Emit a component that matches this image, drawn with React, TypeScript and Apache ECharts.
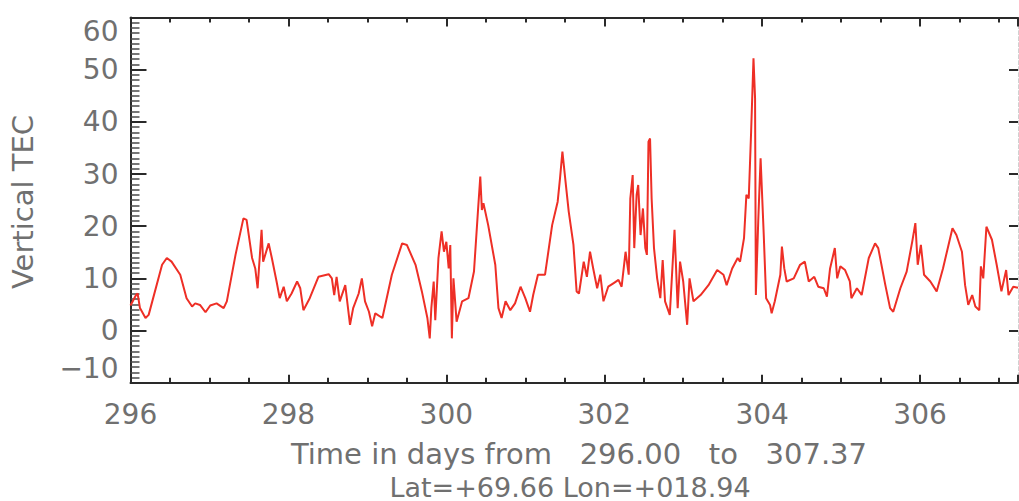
import React, { useEffect, useRef } from "react";
import * as echarts from "echarts";

const days: number[] = [
  296.0, 296.07, 296.09, 296.12, 296.19, 296.23, 296.4, 296.46, 296.52, 296.63,
  296.71, 296.78, 296.82, 296.88, 296.95, 297.01, 297.09, 297.18, 297.22, 297.33,
  297.43, 297.47, 297.54, 297.58, 297.61, 297.66, 297.68, 297.75, 297.79, 297.85,
  297.89, 297.94, 297.98, 298.04, 298.11, 298.15, 298.19, 298.27, 298.38, 298.51,
  298.55, 298.58, 298.61, 298.65, 298.72, 298.78, 298.82, 298.89, 298.93, 298.97,
  299.02, 299.06, 299.1, 299.19, 299.31, 299.44, 299.5, 299.61, 299.69, 299.76,
  299.79, 299.81, 299.84, 299.86, 299.9, 299.94, 299.97, 300.0, 300.03, 300.05,
  300.07, 300.09, 300.13, 300.2, 300.28, 300.35, 300.4, 300.43, 300.45, 300.47,
  300.53, 300.62, 300.66, 300.7, 300.75, 300.81, 300.87, 300.94, 301.0, 301.06,
  301.1, 301.16, 301.25, 301.34, 301.41, 301.44, 301.47, 301.51, 301.55, 301.61,
  301.65, 301.68, 301.74, 301.78, 301.82, 301.86, 301.91, 301.95, 301.99, 302.05,
  302.12, 302.18, 302.22, 302.27, 302.31, 302.33, 302.36, 302.38, 302.41, 302.43,
  302.46, 302.49, 302.52, 302.54, 302.56, 302.58, 302.6, 302.63, 302.67, 302.71,
  302.74, 302.77, 302.83, 302.89, 302.93, 302.96, 303.0, 303.05, 303.08, 303.13,
  303.22, 303.32, 303.43, 303.51, 303.55, 303.62, 303.69, 303.72, 303.77, 303.8,
  303.83, 303.86, 303.89, 303.91, 303.92, 303.95, 303.98, 304.02, 304.05, 304.1,
  304.12, 304.16, 304.23, 304.25, 304.28, 304.31, 304.4, 304.48, 304.54, 304.59,
  304.66, 304.71, 304.78, 304.82, 304.86, 304.92, 304.95, 304.99, 305.05, 305.11,
  305.13, 305.2, 305.26, 305.35, 305.43, 305.47, 305.56, 305.62, 305.66, 305.75,
  305.83, 305.9, 305.94, 305.97, 306.01, 306.05, 306.13, 306.21, 306.29, 306.36,
  306.41, 306.46, 306.53, 306.57, 306.61, 306.66, 306.7, 306.75, 306.77, 306.8,
  306.84, 306.91, 306.97, 307.03, 307.09, 307.12, 307.18, 307.24,
];

const tec: number[] = [
  4.8, 6.8, 7.1, 4.3, 2.4, 3.0, 12.6, 13.9, 13.2, 10.7,
  6.2, 4.6, 5.2, 4.9, 3.5, 4.8, 5.2, 4.3, 5.6, 14.5,
  21.5, 21.2, 13.9, 11.9, 8.1, 19.3, 13.2, 16.7, 13.9, 9.4,
  6.2, 8.4, 5.6, 7.1, 9.4, 8.1, 3.9, 6.2, 10.3, 10.8,
  10.0, 6.8, 10.3, 5.6, 8.7, 1.1, 4.3, 7.1, 10.0, 5.6,
  3.6, 0.8, 3.3, 2.4, 10.7, 16.7, 16.4, 12.6, 7.5, 2.4,
  -1.5, 4.3, 9.4, 2.0, 13.9, 19.0, 15.1, 17.0, 11.9, 16.4,
  -1.5, 10.0, 1.7, 5.6, 6.2, 11.3, 22.8, 29.5, 23.1, 24.4,
  20.2, 12.6, 4.3, 2.4, 5.6, 3.9, 5.2, 8.4, 6.2, 3.6,
  6.8, 10.7, 10.7, 20.2, 24.7, 29.2, 34.3, 28.5, 22.8, 16.4,
  7.5, 7.1, 13.2, 10.3, 15.1, 11.9, 8.1, 10.7, 5.6, 8.4,
  9.1, 9.7, 8.4, 15.1, 10.7, 25.3, 29.8, 15.8, 26.0, 27.9,
  18.3, 23.4, 15.8, 14.5, 36.2, 36.8, 25.3, 15.8, 10.0, 6.2,
  13.5, 5.6, 3.0, 19.3, 4.3, 13.2, 9.4, 1.1, 10.0, 5.6,
  6.8, 8.7, 11.6, 10.7, 8.7, 11.9, 13.9, 13.2, 17.7, 26.0,
  25.3, 38.1, 52.2, 44.5, 6.8, 20.9, 33.0, 18.3, 6.2, 4.9,
  3.3, 5.6, 10.7, 16.1, 11.9, 9.4, 10.0, 12.6, 13.2, 9.4,
  10.3, 8.4, 8.1, 6.5, 11.9, 15.8, 10.0, 12.3, 11.6, 9.4,
  6.2, 8.1, 6.8, 13.9, 16.7, 15.8, 8.7, 4.3, 3.6, 8.1,
  11.3, 17.0, 20.6, 12.6, 16.4, 10.7, 9.4, 7.5, 11.9, 16.4,
  19.6, 18.3, 15.1, 8.7, 4.9, 6.8, 4.6, 3.9, 12.3, 10.0,
  19.9, 17.4, 12.6, 7.5, 11.6, 6.8, 8.4, 8.2,
];

const yTitle = "Vertical TEC";
const xTitle = "Time in days from   296.00   to   307.37";
const subTitle = "Lat=+69.66 Lon=+018.94";

const FONT = "DejaVu Sans";
const TXT = "#707070";
const AX = "#2a2a2a";

export default function App() {
  const ref = useRef<HTMLDivElement>(null);
  useEffect(() => {
    if (!ref.current) return;
    const chart = echarts.init(ref.current, null, { renderer: "svg" });
    const data = days.map((d, i) => [d, tec[i]]);
    chart.setOption({
      animation: false,
      backgroundColor: "#ffffff",
      grid: { left: 130.5, right: 1, top: 17.5, bottom: 118.3, containLabel: false },
      xAxis: [
        {
          type: "value",
          position: "bottom",
          min: 296,
          max: 307.24,
          interval: 2,
          axisLine: { show: true, onZero: false, lineStyle: { color: AX, width: 2 } },
          axisTick: { show: true, inside: true, length: 8, lineStyle: { color: AX, width: 2 } },
          minorTick: { show: true, splitNumber: 4, length: 5, lineStyle: { color: AX, width: 2 } },
          splitLine: { show: false },
          axisLabel: {
            show: true,
            margin: 18,
            color: TXT,
            fontFamily: FONT,
            fontSize: 28,
            showMaxLabel: false,
            formatter: (v: number) => String(v),
          },
        },
        {
          type: "value",
          position: "top",
          min: 296,
          max: 307.24,
          interval: 2,
          axisLine: { show: true, onZero: false, lineStyle: { color: AX, width: 2 } },
          axisTick: { show: true, inside: true, length: 9, lineStyle: { color: AX, width: 2 } },
          minorTick: { show: true, splitNumber: 4, length: 5, lineStyle: { color: AX, width: 2 } },
          splitLine: { show: false },
          axisLabel: { show: false },
        },
      ],
      yAxis: [
        {
          type: "value",
          position: "left",
          min: -10,
          max: 60,
          interval: 10,
          axisLine: { show: true, onZero: false, lineStyle: { color: AX, width: 2 } },
          axisTick: { show: true, inside: true, length: 16, lineStyle: { color: AX, width: 2 } },
          minorTick: { show: true, splitNumber: 10, length: 9, lineStyle: { color: "#4a4a4a", width: 1.5 } },
          splitLine: { show: false },
          axisLabel: {
            show: true,
            margin: 12,
            color: TXT,
            fontFamily: FONT,
            fontSize: 28,
            verticalAlignMaxLabel: "top",
            verticalAlignMinLabel: "bottom",
            formatter: (v: number) => (v < 0 ? "\u2212" + Math.abs(v) : String(v)),
          },
        },
        {
          type: "value",
          position: "right",
          min: -10,
          max: 60,
          interval: 10,
          axisLine: { show: true, onZero: false, lineStyle: { color: "#d0d0d0", width: 1, type: "dashed" } },
          axisTick: { show: true, inside: true, length: 9, lineStyle: { color: AX, width: 2 } },
          splitLine: { show: false },
          axisLabel: { show: false },
        },
      ],
      series: [
        {
          type: "line",
          xAxisIndex: 0,
          yAxisIndex: 0,
          data,
          showSymbol: false,
          symbol: "none",
          lineStyle: { color: "#ee2f26", width: 2 },
          clip: true,
        },
      ],
      graphic: [
        {
          type: "text",
          x: 23,
          y: 202,
          rotation: Math.PI / 2,
          style: {
            text: yTitle,
            fill: TXT,
            font: `29px "${FONT}"`,
            align: "center",
            verticalAlign: "middle",
          },
        },
        {
          type: "text",
          x: 579,
          y: 454,
          style: {
            text: xTitle,
            fill: TXT,
            font: `29px "${FONT}"`,
            lineHeight: 28,
            align: "center",
            verticalAlign: "middle",
          },
        },
        {
          type: "text",
          x: 570,
          y: 487,
          style: {
            text: subTitle,
            fill: TXT,
            font: `27px "${FONT}"`,
            lineHeight: 26,
            align: "center",
            verticalAlign: "middle",
          },
        },
      ],
    });
    return () => chart.dispose();
  }, []);
  return (
    <div
      ref={ref}
      style={{ position: "fixed", left: 0, top: 0, width: 1019, height: 501 }}
    />
  );
}
